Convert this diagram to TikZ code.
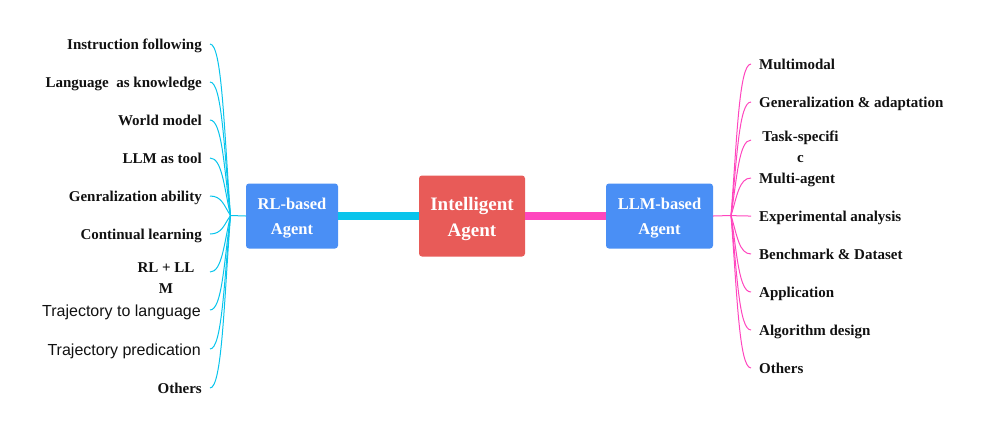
\documentclass[tikz,border=0pt]{standalone}
\usepackage{fontspec}
\setmainfont{Liberation Serif}
\newfontfamily\sansf{Liberation Sans}
\definecolor{boxblue}{HTML}{4A8FF5}
\definecolor{boxred}{HTML}{E85B58}
\definecolor{cyanL}{HTML}{08C4EC}
\definecolor{magL}{HTML}{FF46BE}
\definecolor{leaftext}{HTML}{111111}
\begin{document}
\begin{tikzpicture}[x=1pt,y=-1pt,
  box/.style={rounded corners=3pt, text=white, align=center, inner sep=0pt,
    font=\bfseries\fontsize{16.5}{25}\selectfont},
  leaf/.style={font=\bfseries\fontsize{15}{21}\selectfont, inner sep=0pt, text=leaftext},
  sleaf/.style={font=\sansf\fontsize{16}{18}\selectfont, inner sep=0pt, text=leaftext},
  cl/.style={draw=cyanL, line width=1pt},
  ml/.style={draw=magL, line width=1pt},
  thickc/.style={line width=7.7pt}]
\useasboundingbox (0,0) rectangle (981,432);

% main boxes
\node[box, fill=boxblue, minimum width=92pt, minimum height=65pt] (rl) at (292,216) {\rule{0pt}{16.5pt}RL-based\\Agent};
\node[box, fill=boxred, minimum width=106pt, minimum height=81pt,
  font=\bfseries\fontsize{19}{26.5}\selectfont] (ia) at (472,216) {\rule{0pt}{19pt}Intelligent\\Agent};
\node[box, fill=boxblue, minimum width=107pt, minimum height=65pt] (llm) at (659.5,216) {\rule{0pt}{16.5pt}LLM-based\\Agent};

\draw[thickc, draw=cyanL] (rl.east) -- (ia.west);
\draw[thickc, draw=magL] (ia.east) -- (llm.west);

% junctions
\coordinate (jL) at (230.5,215.5);
\coordinate (jR) at (731,215.5);
\draw[cl] (rl.west) -- (jL);
\draw[ml] (llm.east) -- (jR);

% left leaves
\node[leaf, anchor=base east] (l1) at (202,49) {Instruction following};
\node[leaf, anchor=base east] (l2) at (202,87) {Language\ \ as knowledge};
\node[leaf, anchor=base east] (l3) at (202,125) {World model};
\node[leaf, anchor=base east] (l4) at (202,163) {LLM as tool};
\node[leaf, anchor=base east] (l5) at (202,201) {Genralization ability};
\node[leaf, anchor=base east] (l6) at (202,239) {Continual learning};
\node[leaf, anchor=north, align=center] (l7) at (166,262.5) {RL + LL\\M};
\node[sleaf, anchor=base east] (l8) at (201,316) {Trajectory to language};
\node[sleaf, anchor=base east] (l9) at (201,355) {Trajectory predication};
\node[leaf, anchor=base east] (l10) at (202,393) {Others};

\foreach \i/\y in {1/44,2/82,3/120,4/158,5/196,6/234,7/272,8/310,9/349,10/388}{
  \coordinate (pl\i) at (210,\y);
  \pgfmathsetmacro\m{\y+0.5*(215.5-\y)}
  \draw[cl] (jL) .. controls (224,\m) and (222,\y) .. (pl\i);
}

% right leaves
\node[leaf, anchor=base west] (r1) at (759,69.5) {Multimodal};
\node[leaf, anchor=base west] (r2) at (759,107.5) {Generalization \& adaptation};
\node[leaf, anchor=north, align=center] (r3) at (800.5,130.5) {Task-specifi\\c};
\node[leaf, anchor=base west] (r4) at (759,183) {Multi-agent};
\node[leaf, anchor=base west] (r5) at (759,221) {Experimental analysis};
\node[leaf, anchor=base west] (r6) at (759,259) {Benchmark \& Dataset};
\node[leaf, anchor=base west] (r7) at (759,297.5) {Application};
\node[leaf, anchor=base west] (r8) at (759,335) {Algorithm design};
\node[leaf, anchor=base west] (r9) at (759,373.5) {Others};

\foreach \i/\y in {1/64,2/102,3/140,4/178,5/216,6/254,7/292,8/330,9/368}{
  \coordinate (pr\i) at (751,\y);
  \pgfmathsetmacro\m{\y+0.5*(215.5-\y)}
  \draw[ml] (jR) .. controls (737,\m) and (739,\y) .. (pr\i);
}
\end{tikzpicture}
\end{document}
